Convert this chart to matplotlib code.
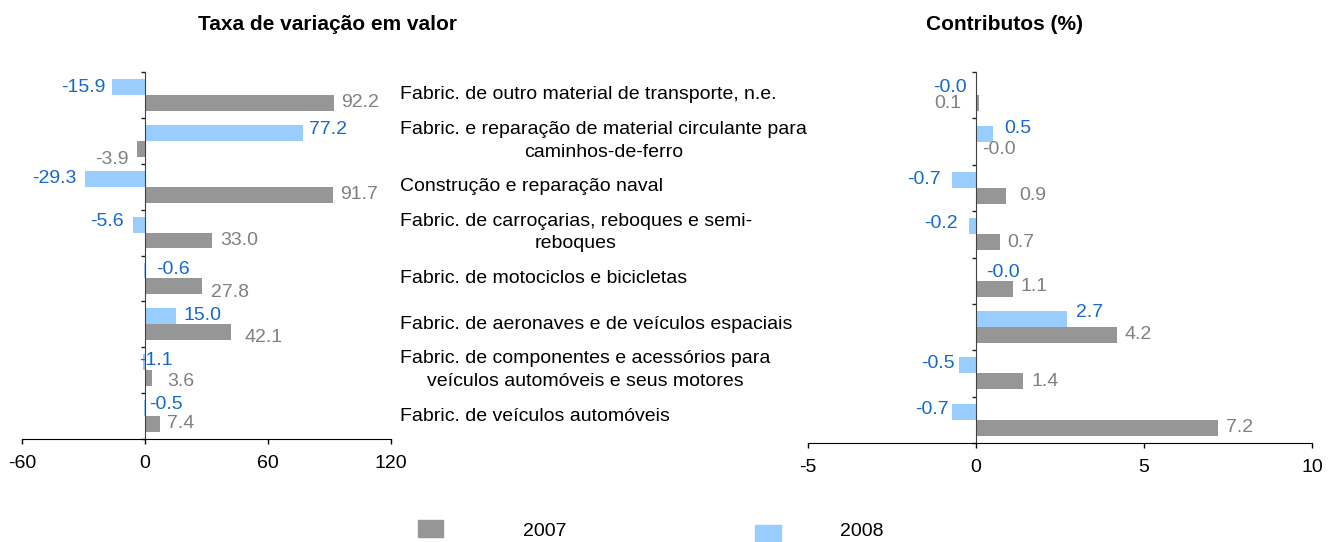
import numpy as np
import matplotlib
matplotlib.use('Agg')
import matplotlib.pyplot as plt
import matplotlib.transforms as mtransforms
from matplotlib.patches import Rectangle

plt.rcParams['font.family'] = ['Liberation Sans', 'DejaVu Sans']

# data
categories = ['Fabric. de outro material de transporte, n.e.',
              'Fabric. e reparação de material circulante para\ncaminhos-de-ferro',
              'Construção e reparação naval',
              'Fabric. de carroçarias, reboques e semi-\nreboques',
              'Fabric. de motociclos e bicicletas',
              'Fabric. de aeronaves e de veículos espaciais',
              'Fabric. de componentes e acessórios para\nveículos automóveis e seus motores',
              'Fabric. de veículos automóveis']
years = ['2007', '2008']

taxa_2007 = [92.2, -3.9, 91.7, 33.0, 27.8, 42.1, 3.6, 7.4]
taxa_2008 = [-15.9, 77.2, -29.3, -5.6, -0.6, 15.0, -1.1, -0.5]

contrib_2007 = [0.1, -0.01, 0.9, 0.7, 1.1, 4.2, 1.4, 7.2]
contrib_2008 = [-0.01, 0.5, -0.7, -0.2, -0.01, 2.7, -0.5, -0.7]

# label placement tweaks (ha, dx px, dy px) - excel had some labels moved by hand
lab_taxa_2007 = [('left', 7, 0), ('right', -8, -11), ('left', 7, 0), ('left', 8, 0),
                 ('left', 9, -6), ('left', 13, -5), ('left', 15, -3), ('left', 7, 0)]
lab_taxa_2008 = [('right', -7, 0), ('left', 6, 3), ('right', -8, 0), ('right', -10, 3),
                 ('left', 12, 1), ('left', 8, 1), ('left', -4, 2), ('left', 5, 4)]
lab_contrib_2007 = [('right', -18, 0), ('left', 6, 0), ('left', 13, 0), ('left', 8, 0),
                    ('left', 8, 2), ('left', 7, 1), ('left', 8, 0), ('left', 8, 0)]
lab_contrib_2008 = [('right', -9, 0), ('left', 11, 5), ('right', -12, 0), ('right', -12, 3),
                    ('left', 10, 0), ('left', 9, 7), ('right', -4, 2), ('right', -4, 2)]

GRAY = '#969696'
BLUE = '#99CCFF'
GRAY_TXT = '#808080'
BLUE_TXT = '#1469CC'
FS = 14

W, H = 1332, 542
fig = plt.figure(figsize=(W / 100, H / 100), dpi=100)
axL = fig.add_axes([22 / W, 1 - 439 / H, 368.7 / W, 367 / H])
axR = fig.add_axes([808 / W, 1 - 443 / H, 504 / W, 371 / H])

n = len(categories)
ycent = np.arange(n) + 0.5
bh = 0.345


def draw(ax, v07, v08, l07, l08, xlim, xticks):
    ax.barh(ycent - bh / 2, v08, height=bh, color=BLUE, zorder=2)
    ax.barh(ycent + bh / 2, v07, height=bh, color=GRAY, zorder=2)
    for vals, labs, off, col in [(v08, l08, -bh / 2, BLUE_TXT), (v07, l07, bh / 2, GRAY_TXT)]:
        for i, v in enumerate(vals):
            ha, dx, dy = labs[i]
            ax.annotate(f'{v:.1f}', xy=(v, ycent[i] + off), xytext=(dx, dy),
                        textcoords='offset pixels', ha=ha, va='center',
                        fontsize=FS, color=col, zorder=3)
    ax.set_xlim(*xlim)
    ax.set_ylim(n, 0)
    ax.set_xticks(xticks)
    ax.set_xticklabels([str(t) for t in xticks])
    ax.set_yticks(np.arange(n + 1))
    ax.set_yticklabels([])
    for s in ['top', 'right']:
        ax.spines[s].set_visible(False)
    ax.spines['left'].set_position(('data', 0))
    ax.spines['left'].set_color('#404040')
    ax.spines['bottom'].set_color('black')
    ax.tick_params(axis='y', length=3, width=1, color='#202020', direction='out')
    ax.tick_params(axis='x', length=3.5, width=1, labelsize=FS, pad=8)


draw(axL, taxa_2007, taxa_2008, lab_taxa_2007, lab_taxa_2008, (-60, 120), [-60, 0, 60, 120])
draw(axR, contrib_2007, contrib_2008, lab_contrib_2007, lab_contrib_2008, (-5, 10), [-5, 0, 5, 10])

# category names between the panels
tr = mtransforms.blended_transform_factory(axL.transAxes, axL.transData)
xlab = (400 - 22) / 368.7
for i, c in enumerate(categories):
    axL.text(xlab, ycent[i], c, transform=tr, ha='left', va='center',
             multialignment='center', fontsize=FS, linespacing=1.45, clip_on=False)

fig.text(327 / W, 1 - 25 / H, 'Taxa de variação em valor', ha='center', va='center',
         fontsize=15, fontweight='bold')
fig.text(1005 / W, 1 - 25 / H, 'Contributos (%)', ha='center', va='center',
         fontsize=15, fontweight='bold')

# legend
fig.add_artist(Rectangle((418 / W, 1 - 537 / H), 25 / W, 17 / H, color=GRAY,
                         transform=fig.transFigure))
fig.add_artist(Rectangle((755 / W, 1 - 542 / H), 26 / W, 17 / H, color=BLUE,
                         transform=fig.transFigure))
fig.text(523 / W, 1 - 532 / H, years[0], ha='left', va='center', fontsize=FS)
fig.text(840 / W, 1 - 532 / H, years[1], ha='left', va='center', fontsize=FS)

fig.savefig('out.png', dpi=100)
